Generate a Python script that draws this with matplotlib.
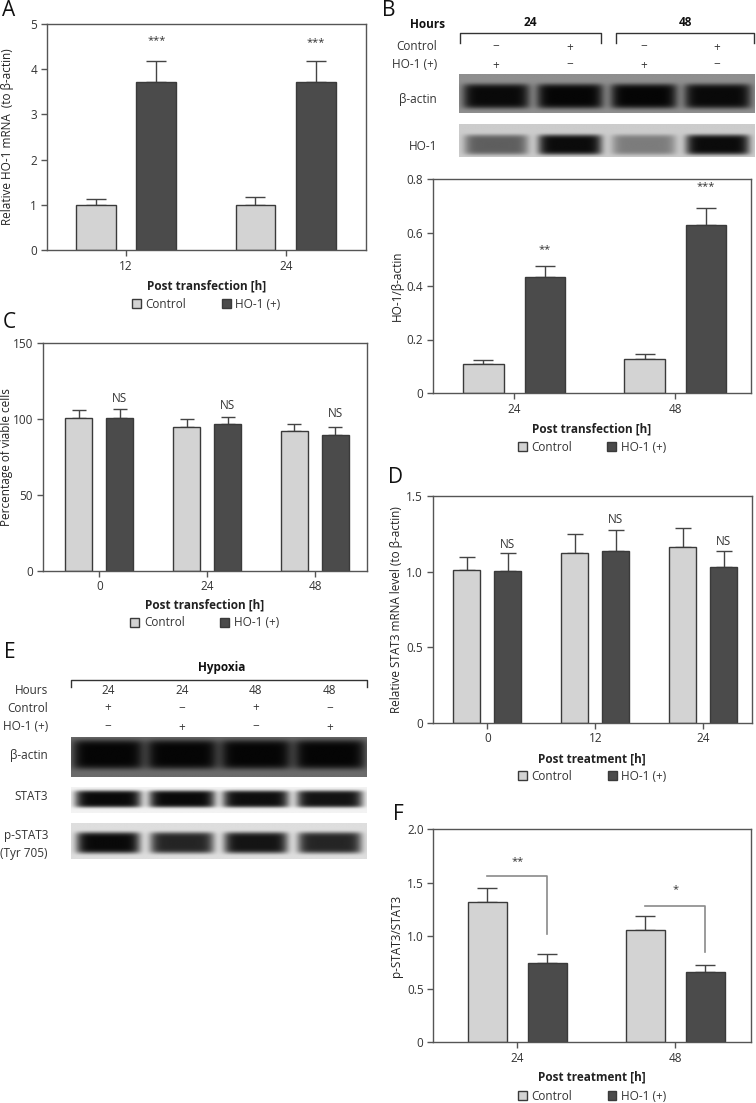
import matplotlib.pyplot as plt
import numpy as np
from matplotlib.transforms import blended_transform_factory

plt.rcParams['font.family'] = ['Open Sans', 'DejaVu Sans']

W, H = 756, 1103
LIGHT = '#d3d3d3'
DARK = '#4b4b4b'
EDGE = '#3a3a3a'
TXT = '#333333'

# ---------------- data ----------------
series_names = ['Control', 'HO-1 (+)']

# A: HO-1 mRNA
groups_a = ['12', '24']
ctrl_a = [1.0, 1.0]
ctrl_a_err = [0.13, 0.165]
ho1_a = [3.71, 3.71]
ho1_a_err = [0.48, 0.48]
sig_a = ['***', '***']
sig_a_y = [4.63, 4.58]
yticks_a = [0, 1, 2, 3, 4, 5]
yticklabels_a = ['0', '1', '2', '3', '4', '5']

# B: HO-1 protein
hours_b = ['24', '48']
blot_b_control = ['\u2212', '+', '\u2212', '+']
blot_b_ho1 = ['+', '\u2212', '+', '\u2212']
blot_b_actin = [0.97, 1.0, 1.0, 0.97]
blot_b_hoband = [0.55, 0.97, 0.4, 0.97]
groups_b = ['24', '48']
ctrl_b = [0.11, 0.128]
ctrl_b_err = [0.015, 0.018]
ho1_b = [0.432, 0.628]
ho1_b_err = [0.041, 0.064]
sig_b = ['**', '***']
sig_b_y = [0.535, 0.77]
yticks_b = [0, 0.2, 0.4, 0.6, 0.8]
yticklabels_b = ['0', '0.2', '0.4', '0.6', '0.8']

# C: viability
groups_c = ['0', '24', '48']
ctrl_c = [100.5, 94.8, 91.9]
ctrl_c_err = [5.5, 5.5, 5.1]
ho1_c = [100.5, 96.5, 89.7]
ho1_c_err = [6.2, 5.1, 4.9]
sig_c = ['NS', 'NS', 'NS']
sig_c_y = [113.5, 109.0, 104.0]
yticks_c = [0, 50, 100, 150]
yticklabels_c = ['0', '50', '100', '150']

# D: STAT3 mRNA
groups_d = ['0', '12', '24']
ctrl_d = [1.01, 1.125, 1.16]
ctrl_d_err = [0.086, 0.125, 0.128]
ho1_d = [1.006, 1.134, 1.028]
ho1_d_err = [0.114, 0.143, 0.11]
sig_d = ['NS', 'NS', 'NS']
sig_d_y = [1.18, 1.345, 1.2]
yticks_d = [0, 0.5, 1.0, 1.5]
yticklabels_d = ['0', '0.5', '1.0', '1.5']

# E: STAT3 / p-STAT3 blots
hours_e = ['24', '24', '48', '48']
blot_e_control = ['+', '\u2212', '+', '\u2212']
blot_e_ho1 = ['\u2212', '+', '\u2212', '+']
blot_e_actin = [1.0, 1.0, 1.0, 1.0]
blot_e_stat3 = [0.98, 0.98, 0.96, 0.94]
blot_e_pstat3 = [0.98, 0.85, 0.93, 0.85]

# F: p-STAT3/STAT3
groups_f = ['24', '48']
ctrl_f = [1.315, 1.058]
ctrl_f_err = [0.131, 0.125]
ho1_f = [0.745, 0.657]
ho1_f_err = [0.088, 0.072]
sig_f = ['**', '*']
sig_f_y = [1.7, 1.43]
bracket_f_top = [1.56, 1.28]
bracket_f_end = [1.02, 0.85]
yticks_f = [0, 0.5, 1.0, 1.5, 2.0]
yticklabels_f = ['0', '0.5', '1.0', '1.5', '2.0']

OFF = 0.19
BW = 0.25

fig = plt.figure(figsize=(W / 100, H / 100), dpi=100)


def rect(l, t, r, b):
    return [l / W, 1 - b / H, (r - l) / W, (b - t) / H]


def ftext(x, y, s, **kw):
    kw.setdefault('color', TXT)
    kw.setdefault('fontsize', 8.5)
    fig.text(x / W, 1 - y / H, s, **kw)


def fline(xs, ys, **kw):
    fig.add_artist(plt.Line2D([x / W for x in xs], [1 - y / H for y in ys],
                              transform=fig.transFigure, **kw))


def bar_panel(box, groups, ctrl, ctrl_err, ho1, ho1_err, yticks, yticklabels,
              xlim, ylabel, xlabel, cap, ylab_x, xlab_y, leg_y):
    l, t, r, b = box
    ax = fig.add_axes(rect(*box))
    x = np.arange(len(groups))
    b1 = ax.bar(x - OFF, ctrl, BW, color=LIGHT, edgecolor=EDGE, linewidth=1, zorder=2)
    b2 = ax.bar(x + OFF, ho1, BW, color=DARK, edgecolor=EDGE, linewidth=1, zorder=2)
    for xs, v, e in [(x - OFF, ctrl, ctrl_err), (x + OFF, ho1, ho1_err)]:
        ax.errorbar(xs, v, yerr=[np.zeros(len(v)), e], fmt='none', ecolor='#444444',
                    elinewidth=1, capsize=cap, capthick=1, zorder=1)
    ax.set_xlim(*xlim)
    ax.set_ylim(yticks[0], yticks[-1])
    ax.set_yticks(yticks)
    ax.set_yticklabels(yticklabels)
    ax.set_xticks(x)
    ax.set_xticklabels(groups)
    ax.tick_params(direction='out', length=4, width=1, color='#555555',
                   labelsize=8.5, labelcolor=TXT, pad=3)
    for s in ax.spines.values():
        s.set_color('#555555')
        s.set_linewidth(1)
    ax.set_ylabel(ylabel, fontsize=8.5, color='#222222', va='center')
    ax.yaxis.set_label_coords((ylab_x - l) / (r - l), 0.5)
    ax.set_xlabel(xlabel, fontsize=8.5, fontweight='bold', color='#222222', va='center')
    ax.xaxis.set_label_coords(0.5, (b - xlab_y) / (b - t))
    fig.legend([b1, b2], series_names, loc='center',
               bbox_to_anchor=((l + r) / 2 / W, 1 - leg_y / H), ncol=2, frameon=False,
               fontsize=8.5, labelcolor=TXT, handlelength=0.75, handleheight=0.75,
               handletextpad=0.4, columnspacing=3.0, borderpad=0)
    return ax


def blot(box, intens, bg, cy, hh, wx):
    ax = fig.add_axes(rect(*box))
    xs = np.linspace(0, 4, 400)
    ys = np.linspace(0, 1, 60)
    X, Y = np.meshgrid(xs, ys)
    img = np.full(X.shape, bg)
    for i, v in enumerate(intens):
        prof = np.exp(-(np.abs(X - (i + 0.5)) / wx) ** 8) * np.exp(-(np.abs(Y - cy) / hh) ** 6)
        img = img - (bg - 0.02) * v * prof
    img = np.clip(img, 0, 1)
    ax.imshow(img, cmap='gray', vmin=0, vmax=1, extent=(0, 4, 0, 1), aspect='auto',
              origin='lower', interpolation='bilinear')
    ax.set_xlim(0, 4)
    ax.set_ylim(0, 1)
    ax.axis('off')
    return ax


# ---------------- panel A ----------------
ax_a = bar_panel((46.7, 24, 365.7, 250), groups_a, ctrl_a, ctrl_a_err, ho1_a, ho1_a_err,
                 yticks_a, yticklabels_a, (-0.497, 1.50),
                 'Relative HO-1 mRNA  (to \u03b2-actin)', 'Post transfection [h]',
                 7, 8, 286, 304)
for i, s in enumerate(sig_a):
    ax_a.text(i + OFF, sig_a_y[i], s, ha='center', va='center', fontsize=8, color=TXT)
ftext(9, 11, 'A', fontsize=15, ha='center', va='center', color='#111111')

# ---------------- panel B ----------------
ftext(389, 11, 'B', fontsize=15, ha='center', va='center', color='#111111')
ftext(410, 24, 'Hours', fontweight='bold', ha='left', va='center', color='#111111')
for (x0, x1), h in zip([(460, 600.7), (616, 754)], hours_b):
    fline([x0, x0, x1, x1], [43, 33, 33, 43], color='#333333', lw=1)
    ftext((x0 + x1) / 2, 23, h, fontweight='bold', ha='center', va='center', color='#111111')
bb1 = blot((459, 74, 754, 113), blot_b_actin, 0.56, 0.43, 0.32, 0.45)
bb2 = blot((459, 124, 754, 157), blot_b_hoband, 0.8, 0.36, 0.3, 0.43)
tr_b = blended_transform_factory(bb1.transData, fig.transFigure)
for i in range(4):
    fig.text(i + 0.5, 1 - 47 / H, blot_b_control[i], transform=tr_b, ha='center',
             va='center', fontsize=8.5, color=TXT)
    fig.text(i + 0.5, 1 - 65 / H, blot_b_ho1[i], transform=tr_b, ha='center',
             va='center', fontsize=8.5, color=TXT)
ftext(437, 47, 'Control', ha='right', va='center')
ftext(437, 65, 'HO-1 (+)', ha='right', va='center')
ftext(437, 99, '\u03b2-actin', ha='right', va='center')
ftext(437, 146, 'HO-1', ha='right', va='center')

ax_b = bar_panel((433, 179, 751, 393), groups_b, ctrl_b, ctrl_b_err, ho1_b, ho1_b_err,
                 yticks_b, yticklabels_b, (-0.503, 1.47),
                 'HO-1/\u03b2-actin', 'Post transfection [h]', 7, 397, 429, 447)
for i, s in enumerate(sig_b):
    ax_b.text(i + OFF, sig_b_y[i], s, ha='center', va='center', fontsize=8, color=TXT)

# ---------------- panel C ----------------
ftext(9, 322, 'C', fontsize=15, ha='center', va='center', color='#111111')
ax_c = bar_panel((42.7, 343.3, 366.7, 570.7), groups_c, ctrl_c, ctrl_c_err, ho1_c, ho1_c_err,
                 yticks_c, yticklabels_c, (-0.525, 2.48),
                 'Percentage of viable cells', 'Post transfection [h]', 5, 7, 605, 623)
for i, s in enumerate(sig_c):
    ax_c.text(i + OFF, sig_c_y[i], s, ha='center', va='center', fontsize=8.5, color=TXT)

# ---------------- panel D ----------------
ftext(396, 477, 'D', fontsize=15, ha='center', va='center', color='#111111')
ax_d = bar_panel((432.7, 496, 751.7, 722.7), groups_d, ctrl_d, ctrl_d_err, ho1_d, ho1_d_err,
                 yticks_d, yticklabels_d, (-0.506, 2.45),
                 'Relative STAT3 mRNA level (to \u03b2-actin)', 'Post treatment [h]',
                 6, 396, 759, 776)
for i, s in enumerate(sig_d):
    ax_d.text(i + OFF, sig_d_y[i], s, ha='center', va='center', fontsize=8.5, color=TXT)

# ---------------- panel E ----------------
ftext(10, 652, 'E', fontsize=15, ha='center', va='center', color='#111111')
ftext(222, 667, 'Hypoxia', fontweight='bold', ha='center', va='center', color='#111111')
fline([70.7, 70.7, 366.7, 366.7], [687, 680, 680, 687], color='#333333', lw=1)
be1 = blot((70.7, 736.7, 366.7, 777.3), blot_e_actin, 0.42, 0.55, 0.36, 0.48)
be2 = blot((70.7, 786.7, 366.7, 813.3), blot_e_stat3, 0.95, 0.52, 0.32, 0.45)
be3 = blot((70.7, 823.3, 366.7, 859.3), blot_e_pstat3, 0.87, 0.45, 0.3, 0.43)
tr_e = blended_transform_factory(be1.transData, fig.transFigure)
for i in range(4):
    fig.text(i + 0.5, 1 - 690 / H, hours_e[i], transform=tr_e, ha='center',
             va='center', fontsize=8.5, color=TXT)
    fig.text(i + 0.5, 1 - 708 / H, blot_e_control[i], transform=tr_e, ha='center',
             va='center', fontsize=8.5, color=TXT)
    fig.text(i + 0.5, 1 - 727 / H, blot_e_ho1[i], transform=tr_e, ha='center',
             va='center', fontsize=8.5, color=TXT)
ftext(48, 690, 'Hours', ha='right', va='center')
ftext(48, 708, 'Control', ha='right', va='center')
ftext(48, 727, 'HO-1 (+)', ha='right', va='center')
ftext(48, 756, '\u03b2-actin', ha='right', va='center')
ftext(48, 797, 'STAT3', ha='right', va='center')
ftext(48, 836, 'p-STAT3', ha='right', va='center')
ftext(48, 853, '(Tyr 705)', ha='right', va='center')

# ---------------- panel F ----------------
ftext(398, 815, 'F', fontsize=15, ha='center', va='center', color='#111111')
ax_f = bar_panel((433.3, 829.3, 751, 1042.3), groups_f, ctrl_f, ctrl_f_err, ho1_f, ho1_f_err,
                 yticks_f, yticklabels_f, (-0.533, 1.48),
                 'p-STAT3/STAT3', 'Post treatment [h]', 7, 397, 1077, 1096)
for i, s in enumerate(sig_f):
    ax_f.plot([i - OFF, i + OFF, i + OFF], [bracket_f_top[i], bracket_f_top[i], bracket_f_end[i]],
              color='#8a8a8a', lw=1.2, zorder=3)
    ax_f.text(i, sig_f_y[i], s, ha='center', va='center', fontsize=8, color=TXT)

fig.savefig('out.png', dpi=100)
